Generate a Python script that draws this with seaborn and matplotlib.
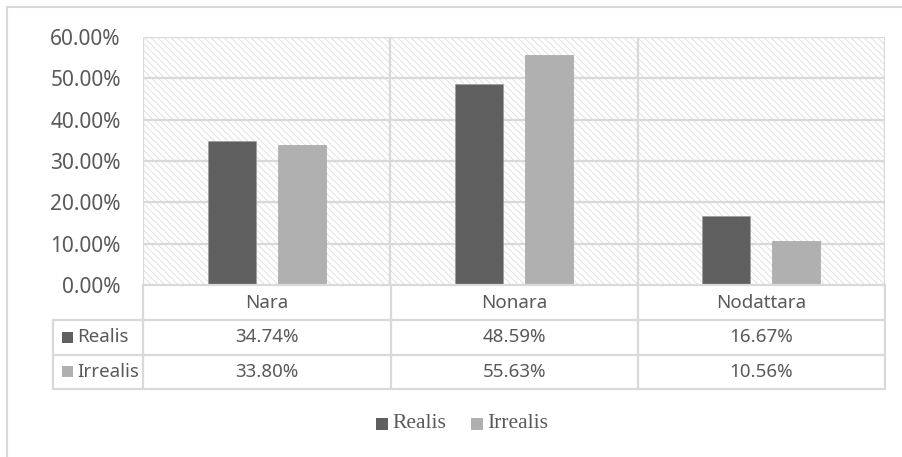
import matplotlib
matplotlib.use("Agg")
import matplotlib.pyplot as plt
from matplotlib.patches import Rectangle
import seaborn as sns
import pandas as pd

categories = ["Nara", "Nonara", "Nodattara"]
series = ["Realis", "Irrealis"]
realis = [0.3474, 0.4859, 0.1667]
irrealis = [0.3380, 0.5563, 0.1056]
colors = ["#5f5f5f", "#b0b0b0"]
y_ticks = [0.0, 0.1, 0.2, 0.3, 0.4, 0.5, 0.6]

df = pd.DataFrame({
    "category": categories * 2,
    "series": [series[0]] * 3 + [series[1]] * 3,
    "value": realis + irrealis,
})

sns.set_theme(style="white")
plt.rcParams["font.family"] = ["Noto Sans", "DejaVu Sans"]
plt.rcParams["hatch.linewidth"] = 0.7

W, H = 902, 457
fig = plt.figure(figsize=(W / 100, H / 100), dpi=100)
fig.patch.set_facecolor("white")

grid_c = "#d9d9d9"
text_c = "#595959"

# plot area in pixel coordinates
px0, px1, py0, py1 = 143, 885, 37, 285
ax = fig.add_axes([px0 / W, 1 - py1 / H, (px1 - px0) / W, (py1 - py0) / H])

# hatched background of the plot area
ax.add_patch(Rectangle((0, 0), 1, 1, transform=ax.transAxes, facecolor="white",
                       edgecolor="#e0e0e0", hatch="\\\\\\\\\\", linewidth=0, zorder=0))

sns.barplot(data=df, x="category", y="value", hue="series", order=categories,
            hue_order=series, palette=colors, width=0.568, gap=0.317,
            saturation=1, legend=False, ax=ax, zorder=3, edgecolor="#9a9a9a",
            linewidth=0.4)

ax.set_xlim(-0.5, len(categories) - 0.5)
ax.set_ylim(0, 0.6)
ax.set_yticks(y_ticks)
ax.set_yticklabels([f"{v * 100:.2f}%" for v in y_ticks], color=text_c, fontsize=15)
ax.tick_params(axis="y", length=0, pad=16)
ax.set_xticks([])
ax.set_xlabel("")
ax.set_ylabel("")
for y in y_ticks[1:]:
    ax.axhline(y, color=grid_c, lw=1.6, zorder=1)
for x in [i - 0.5 for i in range(len(categories) + 1)]:
    ax.axvline(x, color=grid_c, lw=1.6, zorder=1)
for s in ax.spines.values():
    s.set_visible(False)
ax.patch.set_alpha(0)

# data table below the plot, drawn in pixel coordinates
tx = fig.add_axes([0, 0, 1, 1], facecolor="none")
tx.set_xlim(0, W)
tx.set_ylim(H, 0)
tx.axis("off")

rows_y = [285, 320, 354.5, 389]
col_x = [53, 143, 390.5, 638, 885]
lw = 1.6
# horizontal rules
tx.plot([col_x[1], col_x[-1]], [rows_y[0]] * 2, color=grid_c, lw=lw)
for y in rows_y[1:]:
    tx.plot([col_x[0], col_x[-1]], [y, y], color=grid_c, lw=lw)
# vertical rules
tx.plot([col_x[0]] * 2, [rows_y[1], rows_y[-1]], color=grid_c, lw=lw)
for x in col_x[1:]:
    tx.plot([x, x], [rows_y[0], rows_y[-1]], color=grid_c, lw=lw)

fs_t = 13.5
for i, cat in enumerate(categories):
    cx = (col_x[i + 1] + col_x[i + 2]) / 2
    tx.text(cx, (rows_y[0] + rows_y[1]) / 2, cat, ha="center", va="center",
            color=text_c, fontsize=fs_t)
    for r, vals in enumerate([realis, irrealis]):
        tx.text(cx, (rows_y[r + 1] + rows_y[r + 2]) / 2, f"{vals[i] * 100:.2f}%",
                ha="center", va="center", color=text_c, fontsize=fs_t)
for r, name in enumerate(series):
    yc = (rows_y[r + 1] + rows_y[r + 2]) / 2
    tx.add_patch(Rectangle((62, yc - 5.5), 11, 11, facecolor=colors[r], edgecolor="none"))
    tx.text(77, yc, name, ha="left", va="center", color=text_c, fontsize=fs_t)

# legend
leg_y = 424
for (x0, name, c) in [(376, series[0], colors[0]), (471, series[1], colors[1])]:
    tx.add_patch(Rectangle((x0, leg_y - 6), 12, 12, facecolor=c, edgecolor="none"))
    tx.text(x0 + 16, leg_y, name, ha="left", va="center", color=text_c,
            fontsize=15.5, family=["Liberation Serif", "DejaVu Serif"])

# chart frame
tx.plot([7, W], [7, 7], color=grid_c, lw=1.5)
tx.plot([7, 7], [7, H], color=grid_c, lw=1.5)

fig.savefig("out.png", dpi=100, facecolor="white")
